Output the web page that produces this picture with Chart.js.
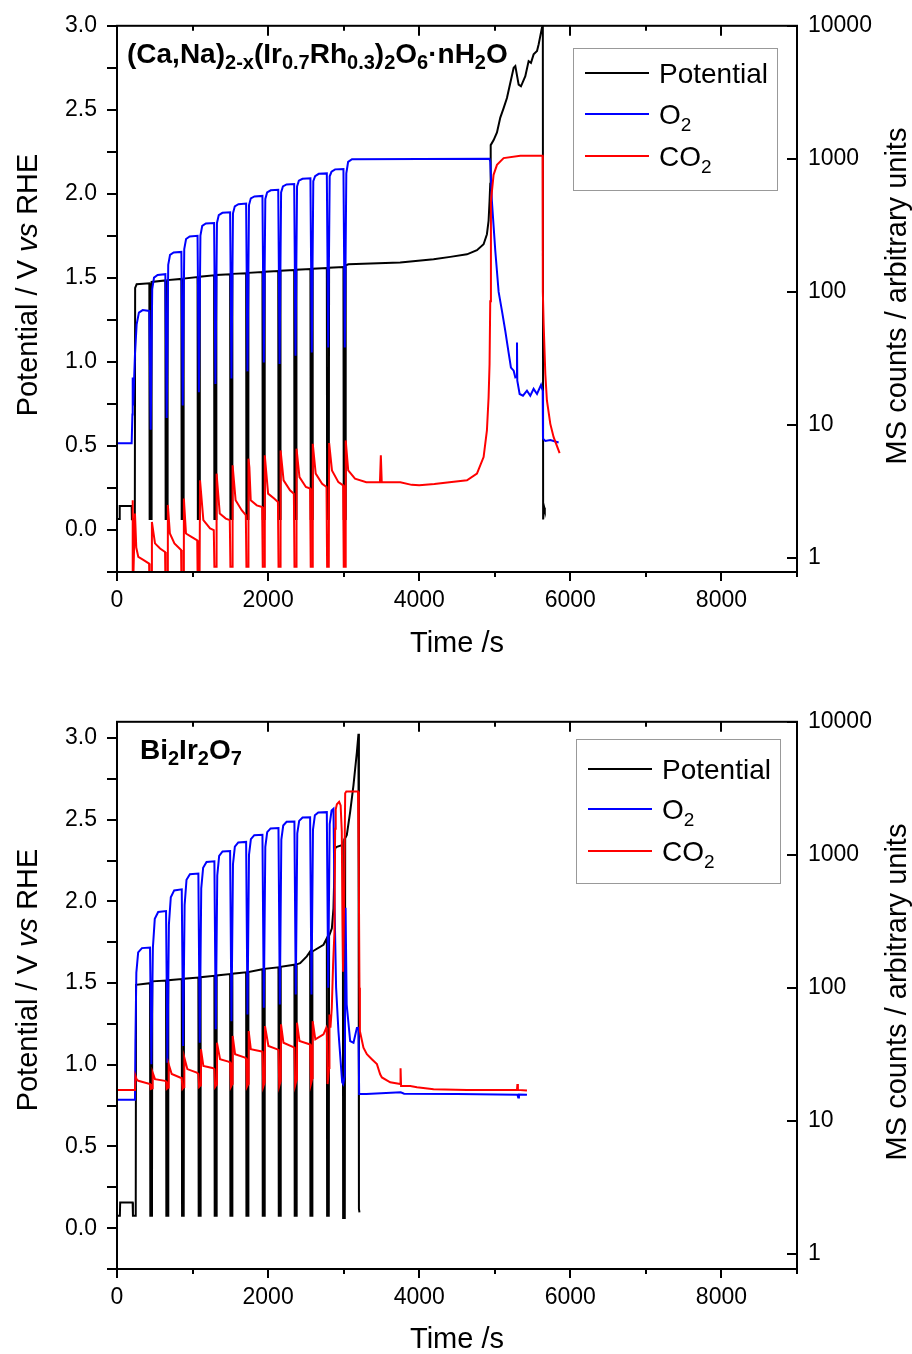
<!DOCTYPE html>
<html>
<head>
<meta charset="utf-8">
<script src="https://cdn.jsdelivr.net/npm/chart.js@4"></script>
<style>
  body { margin: 0; background: #fff; }
  canvas { position: absolute; left: 0; }
  #chartA { top: 0; }
  #chartB { top: 696px; }
</style>
</head>
<body>
<canvas id="chartA" width="912" height="660"></canvas>
<canvas id="chartB" width="912" height="658"></canvas>
<script>
// ---- top panel: (Ca,Na)2-x(Ir0.7Rh0.3)2O6·nH2O ----
const potATime = [0, 33, 36, 194, 197, 236, 240, 260,
  428, 432, 454, 458, 640, 644, 666, 670, 852, 856, 878, 882,
  1066, 1070, 1092, 1096, 1285, 1289, 1311, 1315, 1497, 1501, 1523, 1527,
  1709, 1713, 1735, 1739, 1925, 1929, 1951, 1955, 2134, 2138, 2160, 2164,
  2345, 2349, 2371, 2375, 2560, 2564, 2586, 2590, 2777, 2781, 2803, 2807,
  2997, 3001, 3023, 3027,
  3064, 3748, 4190, 4411, 4632, 4764, 4852, 4896, 4918, 4931, 4940, 4946, 4985, 5029, 5073,
  5117, 5161, 5250, 5272, 5316, 5347, 5404, 5448, 5479, 5514, 5559, 5581, 5625, 5636, 5640,
  5648, 5655, 5662];
const potA = [0.065, 0.065, 0.143, 0.143, 0.064, 0.064, 1.44, 1.462,
  1.468, 0.065, 0.065, 1.476, 1.485, 0.065, 0.065, 1.487, 1.494, 0.065, 0.065, 1.496,
  1.505, 0.065, 0.065, 1.507, 1.515, 0.065, 0.065, 1.517, 1.522, 0.065, 0.065, 1.524,
  1.528, 0.065, 0.065, 1.530, 1.535, 0.065, 0.065, 1.537, 1.541, 0.065, 0.065, 1.543,
  1.547, 0.065, 0.065, 1.549, 1.553, 0.065, 0.065, 1.555, 1.559, 0.065, 0.065, 1.561,
  1.565, 0.065, 0.065, 1.575,
  1.581, 1.591, 1.611, 1.625, 1.640, 1.665, 1.700, 1.760, 1.840, 1.958, 2.060, 2.290, 2.320, 2.365, 2.454,
  2.510, 2.570, 2.750, 2.760, 2.650, 2.640, 2.700, 2.790, 2.780, 2.830, 2.850, 2.890, 2.990, 3.050, 0.063,
  0.063, 0.133, 0.120];

const o2ATime = [0, 194, 204, 208, 214, 238, 260, 290, 340,
  428, 446, 466, 490, 538, 640, 658, 678, 702, 750, 852, 870, 890, 914, 962,
  1066, 1084, 1104, 1128, 1176, 1285, 1303, 1323, 1347, 1395, 1497, 1515, 1535, 1559, 1607,
  1709, 1727, 1747, 1771, 1819, 1925, 1943, 1963, 1987, 2035, 2134, 2152, 2172, 2196, 2244,
  2345, 2363, 2383, 2407, 2455, 2560, 2578, 2598, 2622, 2670, 2777, 2795, 2815, 2839, 2887,
  2997, 3015, 3035, 3059, 3110,
  4930, 4940, 4962, 5007, 5051, 5095, 5139, 5183, 5214, 5250, 5272, 5290, 5294, 5298, 5329,
  5373, 5426, 5470, 5514, 5559, 5612, 5634, 5638, 5669, 5735, 5845];
const o2A = [7.3, 7.3, 12, 22.8, 14, 34, 57, 70, 73,
  72, 9.2, 105, 128, 134, 136, 11.3, 160, 190, 198, 200, 14.0, 210, 250, 261,
  264, 17.6, 265, 314, 327, 330, 20.3, 330, 378, 393, 397, 22.4, 390, 440, 456,
  461, 25.3, 450, 505, 522, 527, 29.5, 500, 560, 580, 585, 28.7, 560, 620, 642,
  647, 33.1, 620, 685, 708, 714, 35.1, 680, 740, 772, 778, 38.3, 740, 800, 834,
  840, 38.3, 780, 950, 995,
  1002, 955, 479, 203, 100, 72, 51, 35, 27, 25.6, 22.8, 23, 41.7, 21.5, 17.1,
  16.6, 18.1, 16.6, 18.7, 17.1, 20, 18.1, 7.9, 7.6, 7.7, 7.4];

const co2ATime = [0, 200, 208, 213, 238, 255, 282, 348, 425,
  432, 454, 462, 503, 570, 636, 644, 666, 673, 700, 760, 848,
  856, 878, 885, 913, 980, 1062, 1070, 1092, 1099, 1143, 1232, 1281,
  1289, 1311, 1318, 1360, 1440, 1493, 1501, 1523, 1530, 1570, 1650, 1705,
  1713, 1735, 1740, 1752, 1770, 1850, 1921, 1929, 1951, 1956, 2000, 2080, 2130,
  2138, 2160, 2165, 2205, 2290, 2341, 2349, 2371, 2376, 2415, 2500, 2556,
  2564, 2586, 2591, 2630, 2715, 2773, 2781, 2803, 2808, 2845, 2930, 2993,
  3001, 3023, 3027, 3060, 3150, 3300, 3480, 3492, 3504, 3750, 3900, 4000, 4200, 4400,
  4632, 4764, 4852, 4896, 4918, 4931, 4940, 4949, 4984, 5029, 5117, 5338, 5633, 5636,
  5647, 5669, 5690, 5735, 5779, 5858];
const co2A = [0.5, 0.5, 2.72, 0.6, 2.16, 1.2, 1.02, 0.97, 0.91,
  0.5, 0.5, 1.87, 1.29, 1.18, 1.11, 0.5, 0.5, 2.51, 1.53, 1.29, 1.15,
  0.5, 0.5, 2.80, 1.53, 1.45, 1.36, 0.5, 0.5, 3.84, 1.93, 1.67, 1.62,
  0.86, 0.86, 4.31, 2.16, 1.98, 1.93, 0.86, 0.86, 4.98, 2.72, 2.29, 2.10,
  0.86, 0.86, 5.58, 4.8, 2.72, 2.49, 2.42, 0.86, 0.86, 5.92, 3.05, 2.80, 2.64,
  0.86, 0.86, 6.44, 3.84, 3.23, 3.05, 0.86, 0.86, 6.64, 4.06, 3.42, 3.33,
  0.86, 0.86, 7.23, 4.31, 3.62, 3.42, 0.86, 0.86, 7.31, 4.56, 3.72, 3.52,
  0.86, 0.86, 7.66, 4.56, 3.95, 3.72, 3.72, 5.92, 3.72, 3.72, 3.55, 3.52, 3.6, 3.72,
  3.84, 4.31, 5.74, 9.1, 16.1, 28.7, 85, 479, 759, 902, 1014, 1057, 1057, 100,
  57, 24.2, 15.3, 10.2, 8.1, 6.15];

// ---- bottom panel: Bi2Ir2O7 ----
const potBTime = [0, 38, 42, 207, 211, 248, 252,
  437, 441, 463, 467, 649, 653, 675, 679, 857, 861, 883, 887,
  1077, 1081, 1103, 1107, 1289, 1293, 1315, 1319, 1497, 1501, 1523, 1527,
  1709, 1713, 1735, 1739, 1925, 1929, 1951, 1955, 2137, 2141, 2163, 2167,
  2348, 2352, 2374, 2378, 2424, 2512,
  2556, 2560, 2582, 2586, 2733,
  2777, 2781, 2803, 2807, 2844, 2865, 2878, 2887, 2910, 2976,
  2989, 2993, 3015, 3020, 3042, 3086, 3130, 3175, 3196, 3202, 3209, 3215];
const potB = [0.076, 0.076, 0.157, 0.157, 0.076, 0.076, 1.49,
  1.500, 0.076, 0.076, 1.511, 1.516, 0.076, 0.076, 1.518, 1.525, 0.076, 0.076, 1.527,
  1.534, 0.076, 0.076, 1.536, 1.545, 0.076, 0.076, 1.547, 1.556, 0.076, 0.076, 1.558,
  1.566, 0.076, 0.076, 1.568, 1.585, 0.076, 0.076, 1.588, 1.597, 0.076, 0.076, 1.600,
  1.613, 0.076, 0.076, 1.615, 1.622, 1.664,
  1.694, 0.076, 0.076, 1.694, 1.735,
  1.775, 0.076, 0.076, 1.790, 1.836, 1.958, 2.200, 2.325, 2.335, 2.345,
  2.360, 0.062, 0.062, 2.386, 2.407, 2.549, 2.712, 2.915, 3.027, 0.120, 0.096, 0.096];

const o2BTime = [0, 238, 244, 256, 280, 330,
  437, 455, 475, 500, 545, 649, 667, 687, 712, 757, 857, 875, 895, 920, 965,
  1077, 1095, 1115, 1140, 1185, 1289, 1307, 1327, 1352, 1397, 1497, 1515, 1535, 1560, 1605,
  1709, 1727, 1747, 1772, 1817, 1925, 1943, 1963, 1988, 2033, 2137, 2155, 2175, 2200, 2245,
  2348, 2366, 2386, 2411, 2456, 2556, 2574, 2594, 2619, 2664, 2777, 2795, 2815, 2840, 2865,
  2880, 2900, 2931, 2980, 2993, 3015, 3025, 3040, 3086, 3130, 3175, 3196, 3205, 3215,
  3300, 3755, 3800, 4500, 5300, 5310, 5320, 5426];
const o2B = [14.4, 14.4, 40, 130, 185, 199,
  201, 26.7, 200, 330, 372, 378, 27.4, 300, 480, 540, 550, 36.6, 420, 650, 715,
  724, 38.7, 560, 800, 885, 895, 48.8, 700, 980, 1060, 1069, 56.2, 850, 1150, 1240,
  1250, 63.1, 1000, 1310, 1405, 1416, 70.8, 1150, 1480, 1580, 1589, 75, 1300, 1660, 1770,
  1782, 89.1, 1450, 1800, 1910, 1919, 89.1, 1550, 1980, 2085, 2094, 100, 1700, 2150, 2218,
  400, 100, 47, 19.5, 18.9, 22, 400, 75, 39.8, 38.7, 50, 50.1, 15.9, 15.9,
  15.9, 16.4, 16.0, 15.9, 15.7, 15.0, 15.8, 15.7];

const co2BTime = [0, 238, 244, 260, 282, 437,
  447, 467, 472, 503, 636, 649, 659, 679, 684, 724, 834, 857,
  867, 887, 891, 931, 1056, 1077, 1087, 1107, 1111, 1143, 1276, 1289,
  1299, 1319, 1323, 1364, 1474, 1497, 1507, 1527, 1531, 1563, 1695, 1709,
  1719, 1739, 1743, 1771, 1917, 1925, 1935, 1955, 1959, 2004, 2115, 2137,
  2147, 2167, 2171, 2203, 2327, 2348, 2358, 2378, 2382, 2415, 2547, 2556,
  2566, 2586, 2590, 2625, 2733, 2770, 2777,
  2787, 2807, 2812, 2825, 2843, 2860, 2878, 2887, 2895, 2910, 2940, 2960, 2975, 2985,
  2992, 3005, 3020, 3035, 3190, 3200, 3209, 3215, 3262, 3307, 3373, 3440, 3483, 3506,
  3616, 3748, 3753, 3760, 3881, 3970, 4190, 4632, 5294, 5300, 5306, 5426];
const co2B = [17.1, 17.1, 21.8, 20.5, 20.0, 18.9,
  17.4, 17.6, 23.1, 20.6, 20.0, 19.8, 17.4, 17.8, 26.7, 22.5, 21.2, 21.0,
  17.4, 18, 29.9, 24.5, 23.1, 22.5, 18, 18.5, 34.6, 25.9, 24.9, 24.5,
  18, 18.8, 38.7, 29.1, 27.9, 27.5, 18, 19, 43.5, 31.7, 29.9, 29.5,
  18, 19, 47.3, 34.6, 33.2, 33, 18, 19.5, 51.6, 36.6, 34.6, 34.2,
  18.2, 20, 53.2, 38.7, 36, 35.5, 18.5, 20.5, 54.7, 39.9, 37.7, 37.5,
  18.9, 21, 56.2, 41, 44.7, 50.1, 48,
  18.9, 25, 63.1, 50.1, 70.8, 149, 263, 1570, 2200, 2400, 2500, 2350, 1500, 300,
  132, 400, 2900, 2992, 2992, 800, 100, 47.3, 35.5, 31.7, 29.1, 26.7, 22.4, 21.2,
  19.5, 18.9, 24.9, 18.3, 18.3, 17.9, 17.3, 17.1, 17.1, 18.9, 17.1, 16.9];

// axis tick labels
const timeLabels = [0, 2000, 4000, 6000, 8000];
const msLabels = [1, 10, 100, 1000, 10000];

const FONT = "'Liberation Sans', Arial, sans-serif";
Chart.defaults.font.family = FONT;
Chart.defaults.color = '#000';

function pts(ts, vs) {
  return ts.map((t, i) => ({ x: t, y: vs[i] }));
}

function isDecade(v) {
  const l = Math.log10(v);
  return Math.abs(l - Math.round(l)) < 1e-6;
}

// text with subscripts / italics
function richWidth(ctx, segs, size, weight, sub) {
  let w = 0;
  segs.forEach(s => {
    ctx.font = (s.i ? 'italic ' : '') + weight + ' ' + (s.s ? sub : size) + 'px ' + FONT;
    w += ctx.measureText(s.t).width;
  });
  return w;
}
function drawRich(ctx, segs, x, y, size, weight, sub, dy) {
  let cx = x;
  segs.forEach(s => {
    ctx.font = (s.i ? 'italic ' : '') + weight + ' ' + (s.s ? sub : size) + 'px ' + FONT;
    ctx.fillText(s.t, cx, y + (s.s ? dy : 0));
    cx += ctx.measureText(s.t).width;
  });
}

const decor = {
  id: 'decor',
  afterDraw(chart, args, o) {
    const { ctx, chartArea: a } = chart;
    const sx = chart.scales.x, sy = chart.scales.y, sr = chart.scales.y2;
    ctx.save();
    ctx.strokeStyle = '#000';
    ctx.lineWidth = 2;
    ctx.strokeRect(a.left, a.top, a.right - a.left, a.bottom - a.top);

    // tick marks
    ctx.beginPath();
    sx.ticks.forEach(t => {
      const p = Math.round(sx.getPixelForValue(t.value));
      const big = t.value % 2000 === 0;
      ctx.moveTo(p, a.bottom); ctx.lineTo(p, a.bottom + (big ? 9 : 5));
      ctx.moveTo(p, a.top); ctx.lineTo(p, a.top + (big ? 10 : 5));
    });
    sy.ticks.forEach(t => {
      if (Math.abs(t.value * 4 - Math.round(t.value * 4)) > 1e-6) return;
      const p = Math.round(sy.getPixelForValue(t.value));
      ctx.moveTo(a.left - 10, p); ctx.lineTo(a.left, p);
    });
    sr.ticks.forEach(t => {
      if (!isDecade(t.value)) return;
      const p = Math.round(sr.getPixelForValue(t.value));
      ctx.moveTo(a.right - 10, p); ctx.lineTo(a.right, p);
    });
    ctx.stroke();

    ctx.fillStyle = '#000';
    ctx.textBaseline = 'alphabetic';

    // sample name
    drawRich(ctx, o.label, o.labelX, 63, 28, 'bold', 20, 6);

    // legend
    const b = o.box;
    ctx.strokeStyle = '#999';
    ctx.lineWidth = 1;
    ctx.strokeRect(b.x + 0.5, b.y + 0.5, b.w, b.h);
    const rows = [
      { c: '#000000', segs: [{ t: 'Potential' }] },
      { c: '#0000ff', segs: [{ t: 'O' }, { t: '2', s: 1 }] },
      { c: '#ff0000', segs: [{ t: 'CO' }, { t: '2', s: 1 }] }
    ];
    rows.forEach((r, i) => {
      const y = o.rows[i];
      ctx.strokeStyle = r.c;
      ctx.lineWidth = 2;
      ctx.beginPath();
      ctx.moveTo(b.x + 12, y); ctx.lineTo(b.x + 76, y);
      ctx.stroke();
      drawRich(ctx, r.segs, b.x + 86, y + 10, 28, 'normal', 19, 7);
    });

    // axis titles
    const left = [{ t: 'Potential / V ' }, { t: 'vs', i: 1 }, { t: ' RHE' }];
    const right = [{ t: 'MS counts / arbitrary units' }];
    const bottom = [{ t: 'Time /s' }];
    const mid = (a.left + a.right) / 2;

    let w = richWidth(ctx, bottom, 29, 'normal', 19);
    drawRich(ctx, bottom, mid - w / 2, 652, 29, 'normal', 19, 7);

    ctx.save();
    ctx.translate(37, o.leftMid);
    ctx.rotate(-Math.PI / 2);
    w = richWidth(ctx, left, 29, 'normal', 19);
    drawRich(ctx, left, -w / 2, 0, 29, 'normal', 19, 7);
    ctx.restore();

    ctx.save();
    ctx.translate(906, o.rightMid);
    ctx.rotate(-Math.PI / 2);
    w = richWidth(ctx, right, 29, 'normal', 19);
    drawRich(ctx, right, -w / 2, 0, 29, 'normal', 19, 7);
    ctx.restore();

    ctx.restore();
  }
};

function makeChart(id, d) {
  const chart = new Chart(document.getElementById(id), {
    type: 'line',
    data: {
      datasets: [
        { label: 'Potential', data: pts(d.potT, d.pot), borderColor: '#000000', yAxisID: 'y', order: 2 },
        { label: 'O2', data: pts(d.o2T, d.o2), borderColor: '#0000ff', yAxisID: 'y2', order: 1 },
        { label: 'CO2', data: pts(d.co2T, d.co2), borderColor: '#ff0000', yAxisID: 'y2', order: 0 }
      ]
    },
    options: {
      responsive: false,
      animation: false,
      events: [],
      layout: { padding: { top: 24, left: 0, right: 0, bottom: 0 } },
      elements: { line: { borderWidth: 2, tension: 0 }, point: { radius: 0 } },
      plugins: { legend: { display: false }, tooltip: { enabled: false }, decor: d.decor },
      scales: {
        x: {
          type: 'linear', min: 0, max: 9000,
          grid: { display: false }, border: { display: false },
          ticks: {
            stepSize: 1000, autoSkip: false, maxRotation: 0, padding: 7, includeBounds: false,
            font: { size: 23 },
            callback: v => timeLabels.includes(v) ? String(v) : ''
          },
          afterFit: s => { s.height = d.xAxisH; }
        },
        y: {
          type: 'linear', position: 'left', min: -0.25, max: d.vMax,
          grid: { display: false }, border: { display: false },
          ticks: {
            stepSize: 0.25, autoSkip: false, padding: 12, includeBounds: false,
            font: { size: 23 },
            callback: v => (v > -0.01 && Math.abs(v * 2 - Math.round(v * 2)) < 1e-6) ? Math.abs(v).toFixed(1) : ''
          },
          afterFit: s => { s.width = 117; }
        },
        y2: {
          type: 'logarithmic', position: 'right', min: d.mMin, max: 10000,
          grid: { display: false }, border: { display: false },
          ticks: {
            autoSkip: false, padding: 3,
            font: { size: 23 },
            callback: v => msLabels.includes(Math.round(v)) && isDecade(v) ? String(Math.round(v)) : ''
          },
          afterFit: s => { s.width = 115; }
        }
      }
    },
    plugins: [decor]
  });
  // put the plot frame exactly where the reference has it
  const dTop = chart.chartArea.top - d.plotTop;
  const dBottom = chart.chartArea.bottom - d.plotBottom;
  if (dTop || dBottom) {
    chart.options.layout.padding.top -= dTop;
    d.xAxisH += dBottom;
    chart.update();
  }
  return chart;
}

makeChart('chartA', {
  potT: potATime, pot: potA, o2T: o2ATime, o2: o2A, co2T: co2ATime, co2: co2A,
  vMax: 3.0, mMin: 0.786, xAxisH: 88, plotTop: 24, plotBottom: 572,
  decor: {
    label: [{ t: '(Ca,Na)' }, { t: '2-x', s: 1 }, { t: '(Ir' }, { t: '0.7', s: 1 }, { t: 'Rh' }, { t: '0.3', s: 1 },
      { t: ')' }, { t: '2', s: 1 }, { t: 'O' }, { t: '6', s: 1 }, { t: '·nH' }, { t: '2', s: 1 }, { t: 'O' }],
    labelX: 127,
    box: { x: 573, y: 48, w: 204, h: 142 },
    rows: [73, 114, 156],
    leftMid: 285, rightMid: 296
  }
});

makeChart('chartB', {
  potT: potBTime, pot: potB, o2T: o2BTime, o2: o2B, co2T: co2BTime, co2: co2B,
  vMax: 3.1, mMin: 0.77, xAxisH: 85, plotTop: 24, plotBottom: 573,
  decor: {
    label: [{ t: 'Bi' }, { t: '2', s: 1 }, { t: 'Ir' }, { t: '2', s: 1 }, { t: 'O' }, { t: '7', s: 1 }],
    labelX: 140,
    box: { x: 576, y: 43, w: 204, h: 144 },
    rows: [73, 113, 155],
    leftMid: 284, rightMid: 296
  }
});
</script>
</body>
</html>
